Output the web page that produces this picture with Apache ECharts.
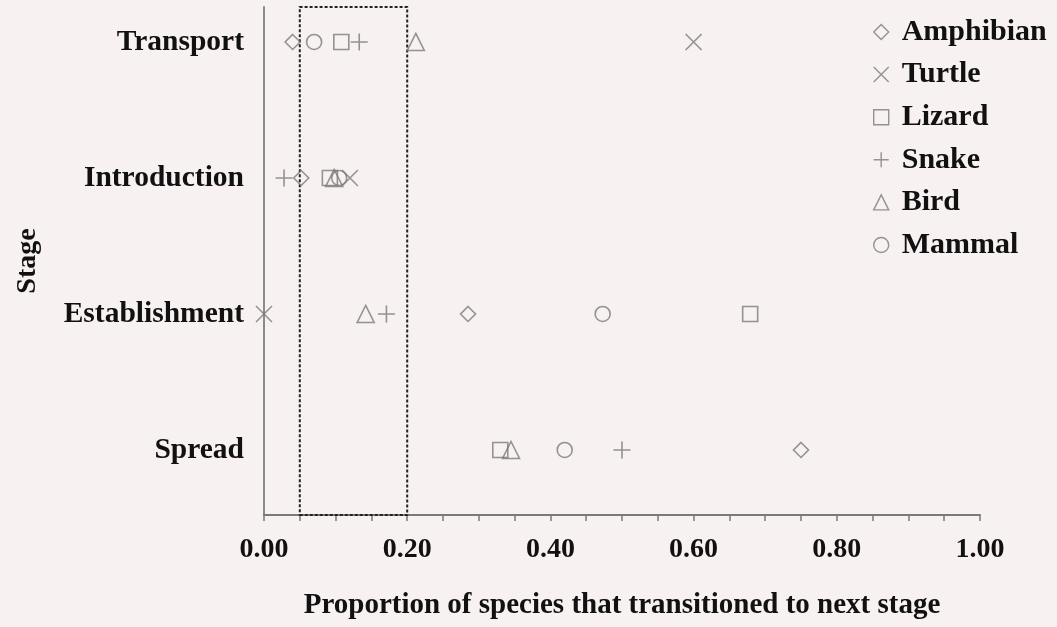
<!DOCTYPE html>
<html>
<head>
<meta charset="utf-8">
<script src="https://cdn.jsdelivr.net/npm/echarts@6/dist/echarts.min.js"></script>
<style>
html,body{margin:0;padding:0;background:#f7f1f1;}
#chart{width:1057px;height:627px;}
</style>
</head>
<body>
<div id="chart"></div>
<script>
// Stage categories (y position index 1..4, bottom to top)
const stages = ['Spread', 'Establishment', 'Introduction', 'Transport'];
const xTicks = [0, 0.2, 0.4, 0.6, 0.8, 1.0];
// values per group, ordered as stages: [Spread, Establishment, Introduction, Transport]
const amphibian = [0.75, 0.285, 0.052, 0.040];
const turtle    = [null, 0.000, 0.120, 0.600];
const lizard    = [0.330, 0.679, 0.092, 0.108];
const snake     = [0.500, 0.171, 0.028, 0.133];
const bird      = [0.345, 0.142, 0.098, 0.212];
const mammal    = [0.420, 0.473, 0.105, 0.070];
const groups = ['Amphibian', 'Turtle', 'Lizard', 'Snake', 'Bird', 'Mammal'];
const highlightRange = [0.05, 0.20];

const FONT = "'Liberation Serif', 'Times New Roman', serif";
const symbols = {
  Amphibian: 'diamond',
  Turtle: 'path://M0,0L10,10M10,0L0,10',
  Lizard: 'rect',
  Snake: 'path://M5,0L5,10M0,5L10,5',
  Bird: 'triangle',
  Mammal: 'circle'
};
const sizes = {Amphibian: 15, Turtle: 16, Lizard: 15, Snake: 17, Bird: 17, Mammal: 15};
const valuesByGroup = {Amphibian: amphibian, Turtle: turtle, Lizard: lizard, Snake: snake, Bird: bird, Mammal: mammal};

const series = groups.map((g, gi) => {
  const s = {
    name: g,
    type: 'scatter',
    symbol: symbols[g],
    symbolSize: sizes[g],
    itemStyle: {color: 'rgba(0,0,0,0)', borderColor: '#7a7a7a', borderWidth: 1.6},
    emphasis: {disabled: true},
    data: valuesByGroup[g].map((v, i) => v === null ? null : [v, i + 1]).filter(d => d !== null)
  };
  if (gi === 0) {
    s.markArea = {
      silent: true,
      itemStyle: {color: 'rgba(0,0,0,0)', borderColor: '#222', borderWidth: 2, borderType: [3, 2]},
      data: [[{xAxis: highlightRange[0]}, {xAxis: highlightRange[1]}]]
    };
  }
  return s;
});

const chart = echarts.init(document.getElementById('chart'));
chart.setOption({
  backgroundColor: '#f7f1f1',
  animation: false,
  grid: {left: 264, right: 77, top: 7, bottom: 112},
  legend: {
    orient: 'vertical',
    left: 868,
    top: 12,
    itemWidth: 15,
    itemHeight: 15,
    itemGap: 12.6,
    data: groups,
    textStyle: {fontFamily: FONT, fontWeight: 'bold', fontSize: 30, color: '#111', lineHeight: 30, padding: [0, 0, 0, 8]},
    itemStyle: {color: 'rgba(0,0,0,0)', borderColor: '#7a7a7a', borderWidth: 1.4}
  },
  xAxis: {
    type: 'value',
    min: 0,
    max: 1,
    interval: 0.2,
    name: 'Proportion of species that transitioned to next stage',
    nameLocation: 'middle',
    nameGap: 76,
    nameTextStyle: {fontFamily: FONT, fontWeight: 'bold', fontSize: 29, color: '#111'},
    axisLine: {show: true, lineStyle: {color: '#7a7a7a', width: 2}},
    axisTick: {show: true, length: 6, lineStyle: {color: '#7a7a7a', width: 1.5}},
    minorTick: {show: true, splitNumber: 4, length: 6, lineStyle: {color: '#7a7a7a', width: 1.5}},
    splitLine: {show: false},
    axisLabel: {
      margin: 21,
      fontFamily: FONT, fontWeight: 'bold', fontSize: 28, color: '#111',
      customValues: xTicks,
      formatter: v => v.toFixed(2)
    }
  },
  yAxis: {
    type: 'value',
    min: 0.522,
    max: 4.257,
    name: 'Stage',
    nameLocation: 'middle',
    nameGap: 222,
    nameRotate: 90,
    nameTextStyle: {fontFamily: FONT, fontWeight: 'bold', fontSize: 28, color: '#111'},
    axisLine: {show: true, lineStyle: {color: '#8a8a8a', width: 2}},
    axisTick: {show: false},
    splitLine: {show: false},
    axisLabel: {
      margin: 20,
      fontFamily: FONT, fontWeight: 'bold', fontSize: 29.5, color: '#111',
      customValues: [1, 2, 3, 4],
      formatter: v => stages[Math.round(v) - 1]
    }
  },
  series: series
});
</script>
</body>
</html>
